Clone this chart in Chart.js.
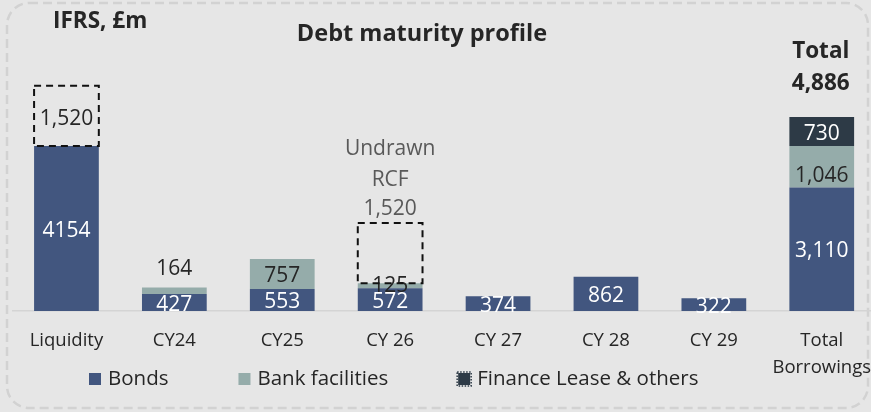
<!DOCTYPE html>
<html>
<head>
<meta charset="utf-8">
<script src="https://cdn.jsdelivr.net/npm/chart.js@4.4.0/dist/chart.umd.min.js"></script>
<style>
  html, body { margin: 0; padding: 0; background: #e6e6e6; overflow: hidden; }
  canvas { display: block; }
</style>
</head>
<body>
<canvas id="debtChart" width="880" height="412"></canvas>
<script>
const categories = ["Liquidity", "CY24", "CY25", "CY 26", "CY 27", "CY 28", "CY 29", ["Total", "Borrowings"]];
const bonds = [4154, 427, 553, 572, 374, 862, 322, 3110];
const bankFacilities = [0, 164, 757, 125, 0, 0, 0, 1046];
const financeLease = [0, 0, 0, 0, 0, 0, 0, 730];
const undrawnRcf = [1520, 0, 0, 1520, 0, 0, 0, 0];
const totalBorrowings = 4886;

const FONT = '"Open Sans", sans-serif';
const TEXT_DARK = '#262626';

// small vertical nudges for individual value labels ("dataset:index": px)
const labelNudge = { "1:1": -22, "1:7": 9, "1:3": 0 };

function fmt(v, d, i) {
  if (d === 0 && i === 0) return String(v); // liquidity shown without separator
  return v.toLocaleString('en-GB');
}

const frame = {
  id: 'frame',
  beforeDraw(chart) {
    const ctx = chart.ctx;
    ctx.save();
    ctx.strokeStyle = '#d2d2d2';
    ctx.lineWidth = 2.5;
    ctx.setLineDash([9, 5]);
    ctx.beginPath();
    ctx.roundRect(7, 3, 861, 405, 22);
    ctx.stroke();
    ctx.restore();
  }
};

const barLabels = {
  id: 'barLabels',
  afterDatasetsDraw(chart) {
    const ctx = chart.ctx;
    ctx.save();
    ctx.textAlign = 'center';
    ctx.textBaseline = 'middle';
    ctx.font = '21px ' + FONT;

    chart.data.datasets.forEach((ds, d) => {
      const meta = chart.getDatasetMeta(d);
      meta.data.forEach((bar, i) => {
        const v = ds.data[i];
        if (!v) return;
        const top = Math.min(bar.y, bar.base);
        const bottom = Math.max(bar.y, bar.base);
        const left = bar.x - bar.width / 2;

        if (ds.dashed) {
          // undrawn facility: dashed outline only
          ctx.save();
          ctx.strokeStyle = '#111';
          ctx.lineWidth = 2;
          ctx.setLineDash([7, 5]);
          ctx.strokeRect(left, top, bar.width, bottom - top);
          ctx.restore();
          if (i === 0) {
            ctx.fillStyle = TEXT_DARK;
            ctx.fillText(fmt(v, d, i), bar.x, (top + bottom) / 2 + 3);
          } else {
            ctx.fillStyle = '#595959';
            ctx.fillText('Undrawn', bar.x, top - 74);
            ctx.fillText('RCF', bar.x, top - 43);
            ctx.fillText(fmt(v, d, i), bar.x, top - 14);
          }
          return;
        }

        const dy = labelNudge[d + ':' + i] !== undefined ? labelNudge[d + ':' + i] : 2;
        ctx.fillStyle = ds.labelColor;
        ctx.fillText(fmt(v, d, i), bar.x, (top + bottom) / 2 + dy);
      });
    });

    // total figure above the last stack
    const last = chart.getDatasetMeta(2).data[7];
    ctx.font = '700 22.5px ' + FONT;
    ctx.fillStyle = TEXT_DARK;
    ctx.fillText('Total', last.x - 1, last.y - 65);
    ctx.fillText(totalBorrowings.toLocaleString('en-GB'), last.x - 1, last.y - 33);

    // headings
    ctx.font = '700 23.5px ' + FONT;
    ctx.fillText('Debt maturity profile', 422, 34);
    ctx.textAlign = 'left';
    ctx.font = '700 22.5px ' + FONT;
    ctx.fillText('IFRS, £m', 53, 22);
    ctx.restore();
  }
};

const legendBoxes = {
  id: 'legendBoxes',
  afterDraw(chart) {
    const ctx = chart.ctx;
    ctx.save();
    ctx.font = '20.5px ' + FONT;
    ctx.textBaseline = 'middle';
    let x = 89;
    const y = 379;
    chart.data.datasets.filter(ds => !ds.dashed).forEach(ds => {
      ctx.fillStyle = ds.backgroundColor;
      ctx.fillRect(x, y - 6, 12, 12);
      if (ds.dottedKey) {
        ctx.strokeStyle = ds.backgroundColor;
        ctx.lineWidth = 1.5;
        ctx.setLineDash([1.5, 1.5]);
        ctx.strokeRect(x - 1, y - 7, 14, 14);
        ctx.setLineDash([]);
      }
      ctx.fillStyle = TEXT_DARK;
      ctx.fillText(ds.label, x + 19, y);
      x += 19 + ctx.measureText(ds.label).width + 70;
    });
    ctx.restore();
  }
};

new Chart(document.getElementById('debtChart'), {
  type: 'bar',
  data: {
    labels: categories,
    datasets: [
      { label: 'Bonds', data: bonds, backgroundColor: '#42567f', labelColor: '#ffffff' },
      { label: 'Bank facilities', data: bankFacilities, backgroundColor: '#95acaa', labelColor: TEXT_DARK },
      { label: 'Finance Lease & others', data: financeLease, backgroundColor: '#2d3a46', labelColor: '#ffffff', dottedKey: true },
      { label: 'Undrawn RCF', data: undrawnRcf, backgroundColor: 'rgba(0,0,0,0)', dashed: true }
    ]
  },
  options: {
    responsive: false,
    animation: false,
    datasets: { bar: { barPercentage: 0.6, categoryPercentage: 1.0, borderWidth: 0 } },
    layout: { padding: { left: 12.5, right: 4.3, top: 72.8, bottom: 0 } },
    plugins: { legend: { display: false }, tooltip: { enabled: false } },
    scales: {
      x: {
        stacked: true,
        grid: { display: false },
        border: { display: true, color: '#d4d4d4', width: 1.5 },
        ticks: { color: TEXT_DARK, font: { family: FONT, size: 18.5, lineHeight: 1.46 }, padding: 8, maxRotation: 0 },
        afterFit(scale) { scale.height = 101; }
      },
      y: { stacked: true, display: false, min: 0, max: 6000 }
    }
  },
  plugins: [frame, barLabels, legendBoxes]
});
</script>
</body>
</html>
